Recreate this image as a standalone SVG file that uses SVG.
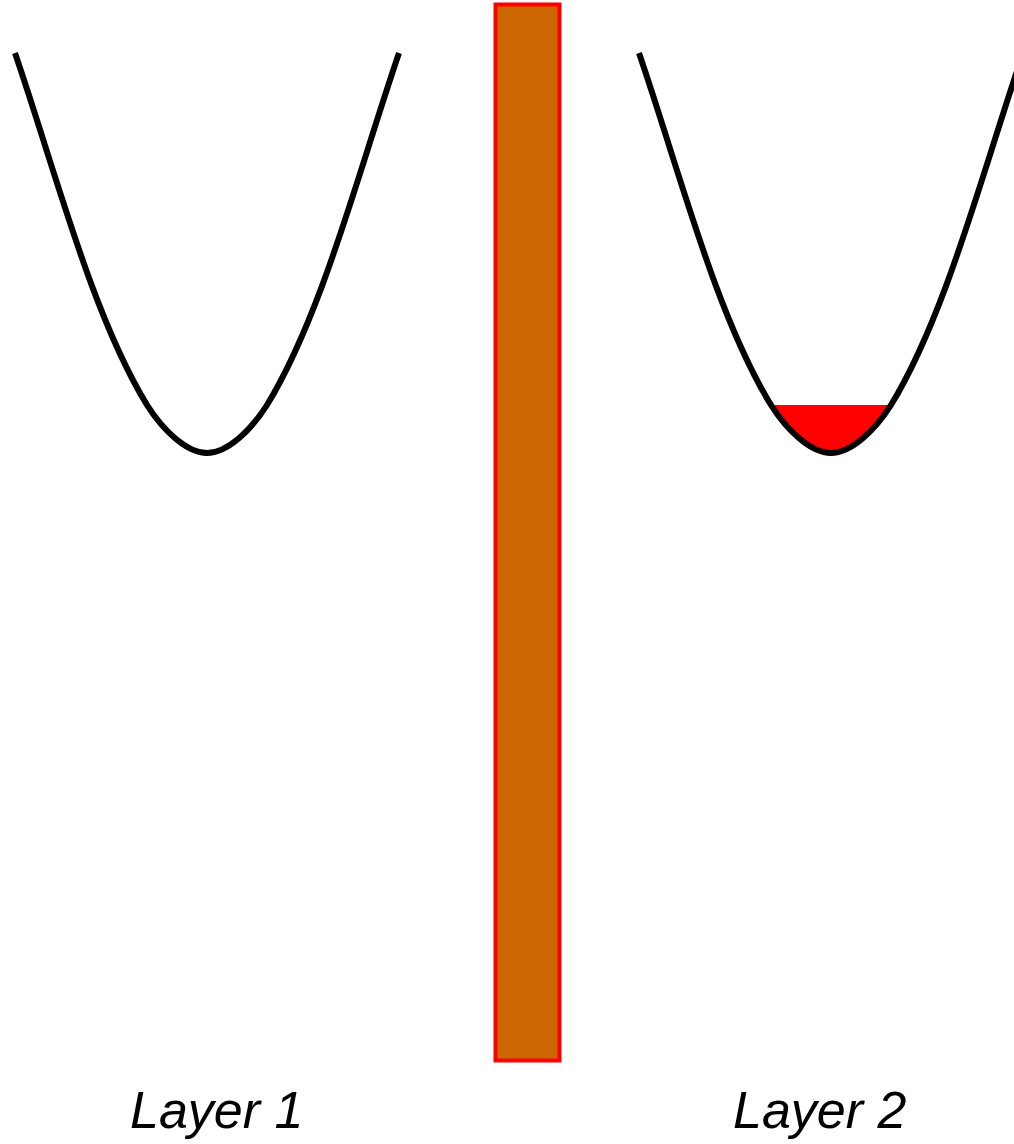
<svg xmlns="http://www.w3.org/2000/svg" width="1014" height="1144" viewBox="0 0 1014 1144">
<style>
.curve{fill:none;stroke:#000;stroke-width:6;stroke-linecap:butt;stroke-linejoin:round}
.lbl{font-family:"Liberation Sans",Arial,sans-serif;font-style:italic;font-size:52px;fill:#000}
</style>
<rect width="1014" height="1144" fill="#fff"/>
<g id="layer1">
<path class="curve" d="M15,53 C56,173 92,315 147,405 C163.5,431 187,453 207,453 C227,453 250.5,431 267,405 C322,315 358,173 399,53"/>
<text class="lbl" x="130" y="1128">Layer 1</text>
</g>
<g id="barrier">
<rect x="495.5" y="4.5" width="64" height="1056" fill="#CC6600" stroke="#FF0000" stroke-width="4"/>
</g>
<g id="layer2">
<path d="M771,405 C787.5,431 811,453 831,453 C851,453 874.5,431 891,405 Z" fill="#FF0000"/>
<path class="curve" d="M639,53 C680,173 716,315 771,405 C787.5,431 811,453 831,453 C851,453 874.5,431 891,405 C946,315 982,173 1023,53"/>
<text class="lbl" x="733" y="1128">Layer 2</text>
</g>
<g id="connectors"/>
</svg>
